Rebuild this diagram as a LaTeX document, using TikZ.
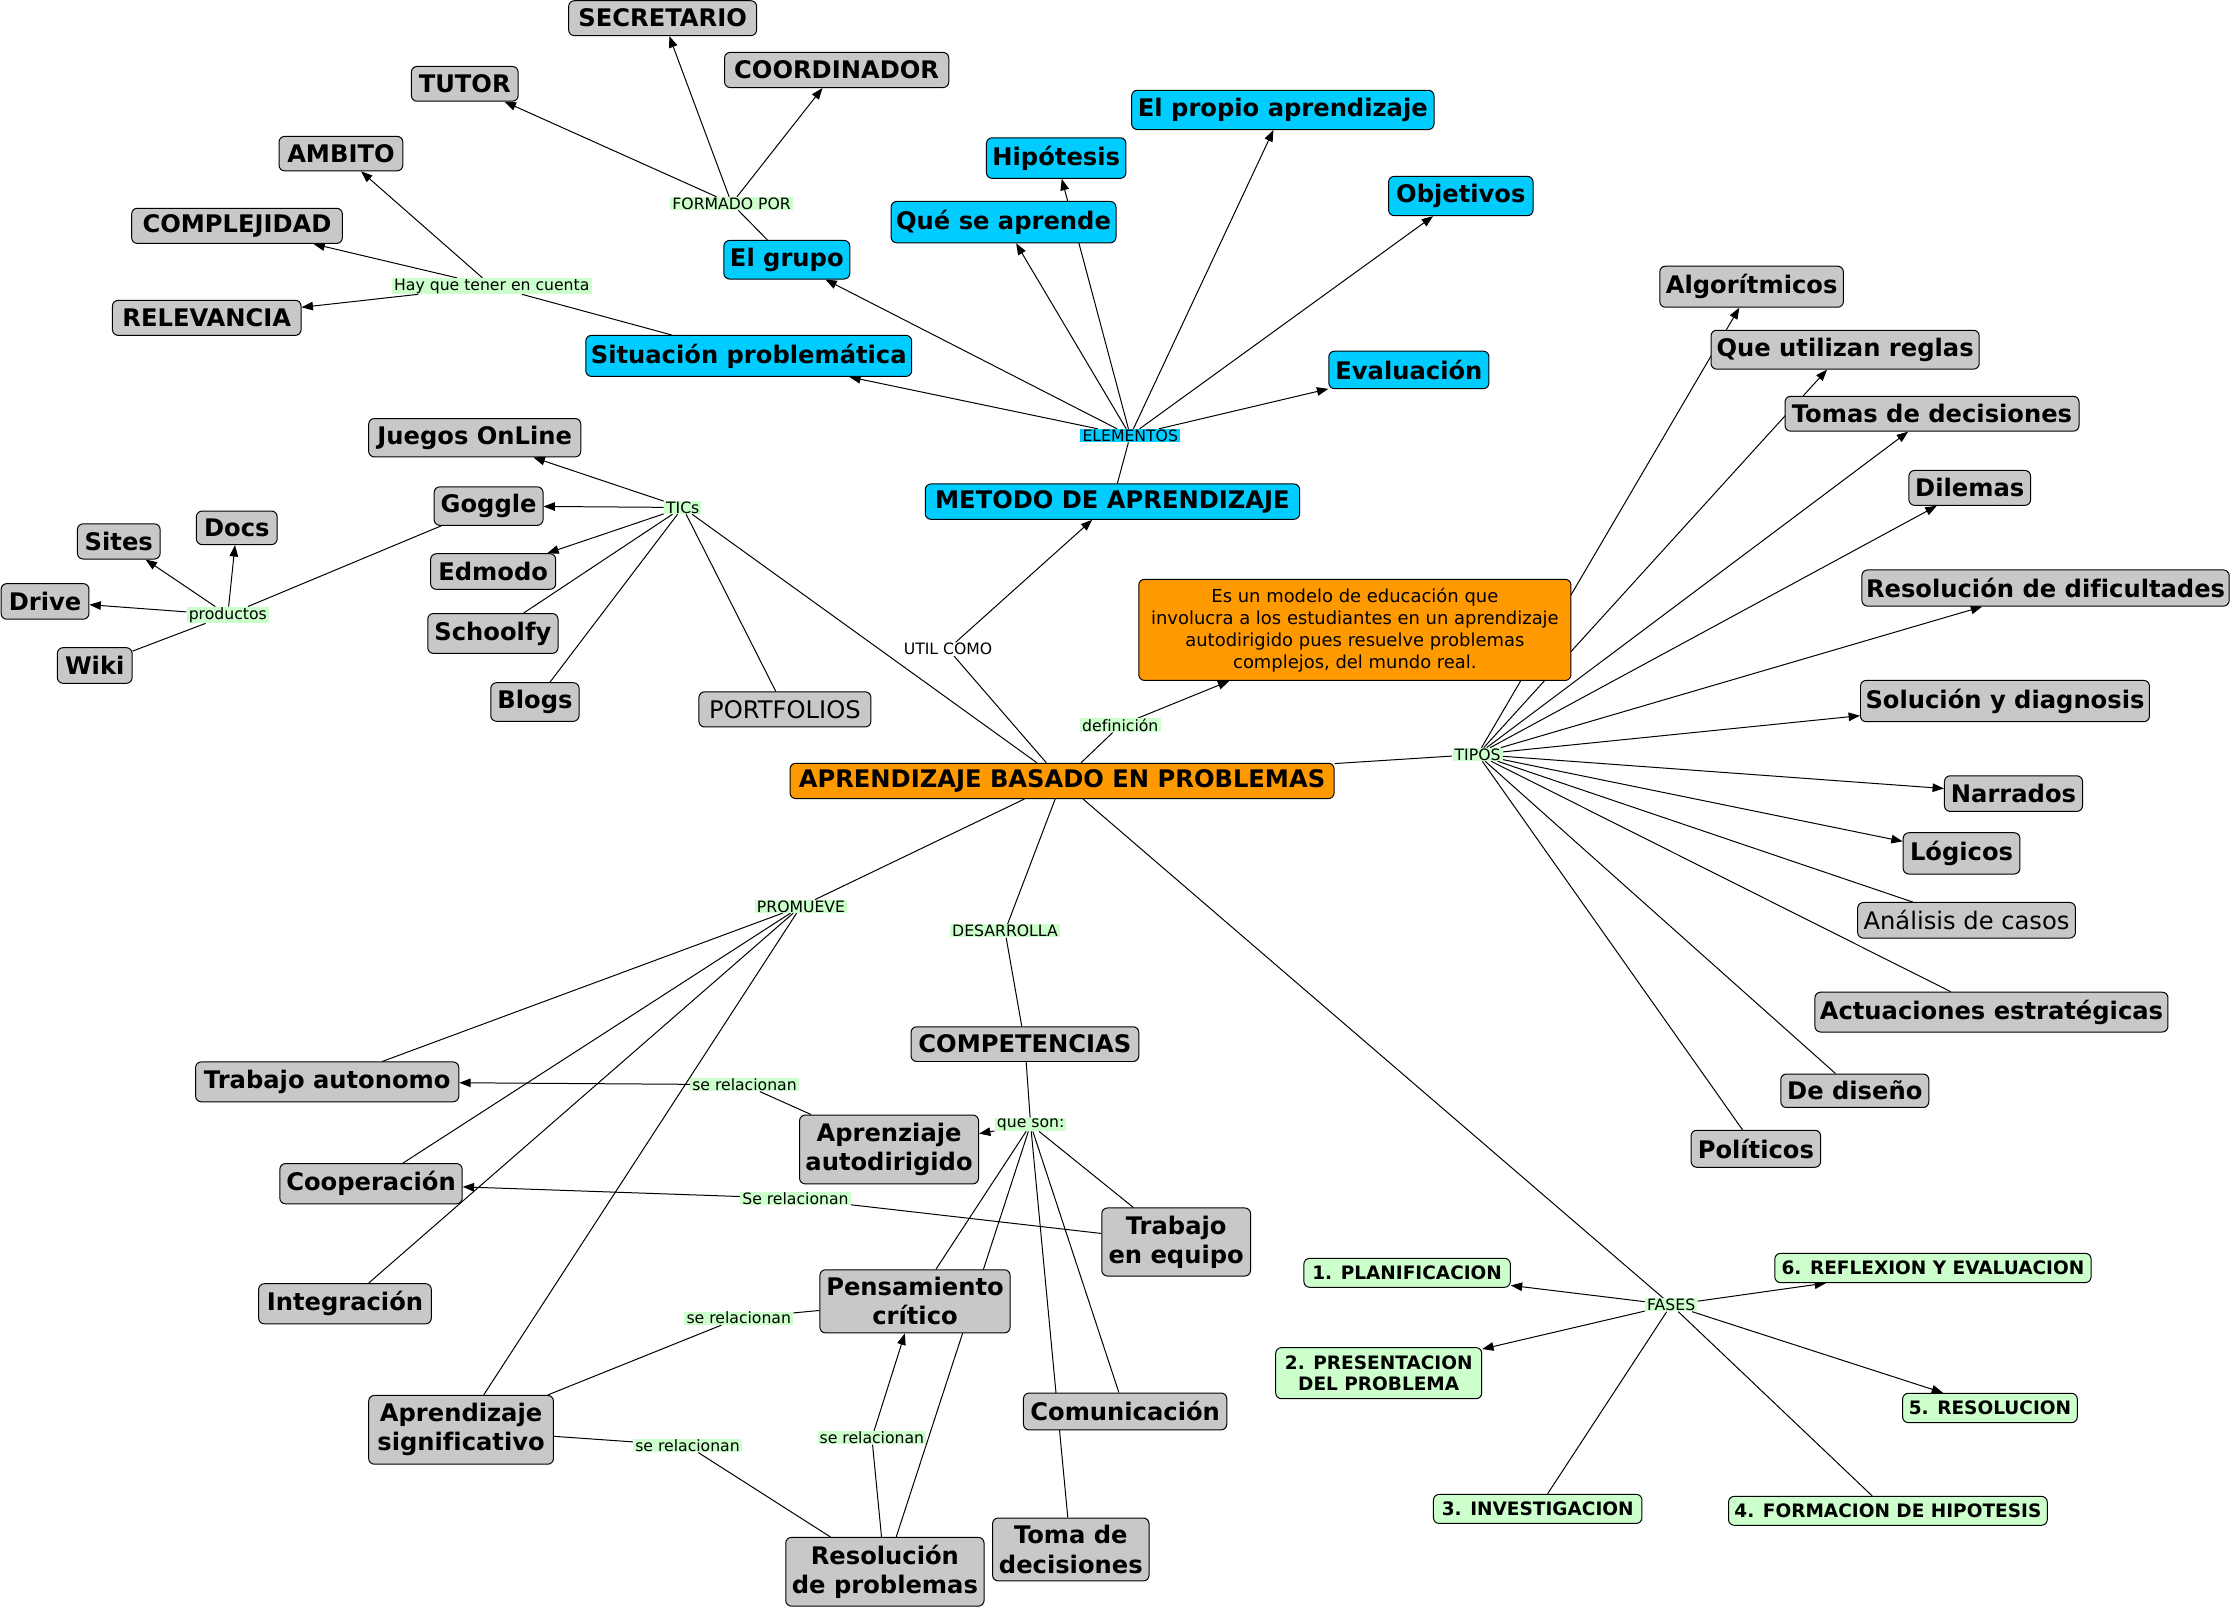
\documentclass[tikz,border=0pt]{standalone}
\usepackage{fontspec}
\setmainfont{DejaVu Sans}[Ligatures=NoCommon]
\usetikzlibrary{arrows.meta}
\pgfdeclarelayer{bg}
\pgfsetlayers{bg,main}
\definecolor{cgray}{HTML}{C8C8C8}
\definecolor{cblue}{HTML}{00CCFF}
\definecolor{corange}{HTML}{FF9900}
\definecolor{cgreen}{HTML}{CCFFCC}
\newcommand\cmnode[7]{\node[#1,minimum width={(#5)-(#3)},minimum height={(#6)-(#4)}] (#2) at ({((#3)+(#5))/2},{((#4)+(#6))/2}) {#7};}
\begin{document}
\begin{tikzpicture}[x=1pt,y=-1pt,
  box/.style={draw=black, line width=0.7pt, rounded corners=4pt, inner xsep=2pt, inner ysep=1pt, align=center, text=black, font=\fontsize{17}{20.4}\selectfont\bfseries},
  gbox/.style={box, fill=cgray},
  gboxr/.style={box, fill=cgray, font=\fontsize{17}{20.4}\selectfont},
  bbox/.style={box, fill=cblue},
  obox/.style={box, fill=corange},
  dbox/.style={box, fill=corange, font=\fontsize{12.6}{15.5}\selectfont},
  pbox/.style={box, fill=cgreen, font=\fontsize{13}{14.8}\selectfont\bfseries},
  lnk/.style={fill=cgreen, inner xsep=1.5pt, inner ysep=0.4pt, text=black, font=\fontsize{11}{12}\selectfont},
  lnkb/.style={lnk, fill=cblue},
  lnkw/.style={lnk, fill=white},
  con/.style={line width=0.7pt, draw=black},
  arr/.style={con, -{Triangle[length=8pt,width=6pt]}}
]
\useasboundingbox (0,0) rectangle (1568,1130.35);

% ---------- gray concepts ----------
\cmnode{gbox}{secretario}{399.5}{0.5}{531.5}{25}{SECRETARIO}
\cmnode{gbox}{coordinador}{509}{36.8}{666.5}{61.5}{COORDINADOR}
\cmnode{gbox}{tutor}{289}{46.7}{364}{71.1}{TUTOR}
\cmnode{gbox}{ambito}{196}{95.8}{283}{120}{AMBITO}
\cmnode{gbox}{complejidad}{92.5}{146.3}{240.5}{171}{COMPLEJIDAD}
\cmnode{gbox}{relevancia}{79}{211}{211.5}{235.6}{RELEVANCIA}
\cmnode{gbox}{juegos}{259}{294}{408}{321}{Juegos OnLine}
\cmnode{gbox}{goggle}{305}{342}{381.5}{369}{Goggle}
\cmnode{gbox}{docs}{138}{359}{194.7}{382.6}{Docs}
\cmnode{gbox}{sites}{54.4}{368}{112.5}{392.7}{Sites}
\cmnode{gbox}{drive}{0.8}{410}{62.5}{435}{Drive}
\cmnode{gbox}{wiki}{40.3}{455}{92.8}{480}{Wiki}
\cmnode{gbox}{edmodo}{302.5}{389}{390.4}{414}{Edmodo}
\cmnode{gbox}{schoolfy}{300.5}{431}{392}{459}{Schoolfy}
\cmnode{gbox}{blogs}{344.8}{479.6}{406.8}{506.7}{Blogs}
\cmnode{gboxr}{portfolios}{491}{486}{611.8}{510.7}{PORTFOLIOS}
\cmnode{gbox}{algor}{1166}{187}{1295}{215.8}{Algorítmicos}
\cmnode{gbox}{reglas}{1202}{232}{1390.4}{259.3}{Que utilizan reglas}
\cmnode{gbox}{tomas}{1254}{278.4}{1460.5}{302.9}{Tomas de decisiones}
\cmnode{gbox}{dilemas}{1341}{330.5}{1426.5}{355}{Dilemas}
\cmnode{gbox}{dificult}{1308}{400.4}{1566}{425.8}{Resolución de dificultades}
\cmnode{gbox}{solucion}{1307}{478}{1510}{507}{Solución y diagnosis}
\cmnode{gbox}{narrados}{1366}{545}{1463}{570}{Narrados}
\cmnode{gbox}{logicos}{1337}{585}{1419}{614}{Lógicos}
\cmnode{gboxr}{analisis}{1305}{634}{1458}{659}{Análisis de casos}
\cmnode{gbox}{actuac}{1275}{697}{1523}{725}{Actuaciones estratégicas}
\cmnode{gbox}{diseno}{1251}{754.5}{1355}{778}{De diseño}
\cmnode{gbox}{politicos}{1188}{794}{1279}{820}{Políticos}
\cmnode{gbox}{competencias}{640}{721.3}{800}{745.7}{COMPETENCIAS}
\cmnode{gbox}{tautonomo}{137.4}{746}{322.3}{774}{Trabajo autonomo}
\cmnode{gbox}{autodir}{561.7}{783.3}{687.4}{831.7}{Aprenziaje\\autodirigido}
\cmnode{gbox}{cooperacion}{196.6}{817.4}{324.7}{845.7}{Cooperación}
\cmnode{gbox}{tequipo}{774}{848.6}{878.5}{896.4}{Trabajo\\en equipo}
\cmnode{gbox}{integracion}{181.7}{901.8}{303}{930}{Integración}
\cmnode{gbox}{pensamiento}{576}{892}{709.6}{936.4}{Pensamiento\\crítico}
\cmnode{gbox}{significativo}{259}{980.3}{388.8}{1028.6}{Aprendizaje\\significativo}
\cmnode{gbox}{comunicacion}{719}{978.6}{861.8}{1004.5}{Comunicación}
\cmnode{gbox}{resolucion}{552}{1080}{691.3}{1128.3}{Resolución\\de problemas}
\cmnode{gbox}{toma}{697.3}{1066.4}{807.2}{1110.6}{Toma de\\decisiones}

% ---------- blue concepts ----------
\cmnode{bbox}{propio}{795}{63.4}{1007.4}{91}{El propio aprendizaje}
\cmnode{bbox}{hipotesis}{693}{96.8}{791}{125.3}{Hipótesis}
\cmnode{bbox}{quese}{626}{141.5}{784}{170.6}{Qué se aprende}
\cmnode{bbox}{objetivos}{975.5}{123.9}{1077}{151.5}{Objetivos}
\cmnode{bbox}{grupo}{508.5}{168.9}{597}{196}{El grupo}
\cmnode{bbox}{situacion}{411.5}{235.6}{640.5}{264.4}{Situación problemática}
\cmnode{bbox}{evaluacion}{933.5}{246.7}{1046}{273}{Evaluación}
\cmnode{bbox}{metodo}{650}{340}{913}{364.8}{METODO DE APRENDIZAJE}

% ---------- orange ----------
\cmnode{obox}{abp}{555}{536.2}{937.2}{561}{APRENDIZAJE BASADO EN PROBLEMAS}
\cmnode{dbox}{defin}{800}{407}{1103.6}{478}{Es un modelo de educación que\\involucra a los estudiantes en un aprendizaje\\autodirigido pues resuelve problemas\\complejos, del mundo real.}

% ---------- phases ----------
\cmnode{pbox}{f1}{916}{884}{1061}{904.3}{1. PLANIFICACION}
\cmnode{pbox}{f2}{896.2}{946.7}{1040.9}{982.6}{2. PRESENTACION\\DEL PROBLEMA}
\cmnode{pbox}{f3}{1007}{1049.8}{1153.5}{1070.2}{3. INVESTIGACION}
\cmnode{pbox}{f4}{1214.3}{1051.2}{1438.2}{1071.5}{4. FORMACION DE HIPOTESIS}
\cmnode{pbox}{f5}{1336.6}{978.8}{1459.3}{999.4}{5. RESOLUCION}
\cmnode{pbox}{f6}{1246.8}{880.5}{1469}{901}{6. REFLEXION Y EVALUACION}

% ---------- linking phrases ----------
\node[lnk] (formado) at (514,143) {FORMADO POR};
\node[lnk] (hay) at (345.5,201) {Hay que tener en cuenta};
\node[lnkb] (elementos) at (794,306) {ELEMENTOS};
\node[lnk] (tics) at (479.6,356.5) {TICs};
\node[lnk] (productos) at (160,432) {productos};
\node[lnkw] (util) at (666,456) {UTIL COMO};
\node[lnk] (definicion) at (787,509.5) {definición};
\node[lnk] (tipos) at (1038,530) {TIPOS};
\node[lnk] (promueve) at (562.7,636.7) {PROMUEVE};
\node[lnk] (desarrolla) at (706,654) {DESARROLLA};
\node[lnk] (rel1) at (523,762) {se relacionan};
\node[lnk] (queson) at (724,790) {que son:};
\node[lnk] (rel2) at (558.8,841.9) {Se relacionan};
\node[lnk] (rel3) at (519,926) {se relacionan};
\node[lnk] (rel4) at (483,1015.6) {se relacionan};
\node[lnk] (rel5) at (612.5,1010) {se relacionan};
\node[lnk] (fases) at (1174,916.7) {FASES};

% ---------- connectors ----------
\begin{pgfonlayer}{bg}
\fill[white] (0,0) rectangle (1568,1130.35);
% formado por
\draw[con] (grupo) -- (formado);
\draw[arr] (formado) -- (secretario);
\draw[arr] (formado) -- (coordinador);
\draw[arr] (formado) -- (tutor);
% hay que tener en cuenta
\draw[con] (situacion) -- (hay);
\draw[arr] (hay) -- (ambito);
\draw[arr] (hay) -- (complejidad);
\draw[arr] (hay) -- (relevancia);
% elementos
\draw[con] (metodo) -- (elementos);
\draw[arr] (elementos) -- (grupo);
\draw[arr] (elementos) -- (situacion);
\draw[arr] (elementos) -- (quese);
\draw[arr] (elementos) -- (hipotesis);
\draw[arr] (elementos) -- (propio);
\draw[arr] (elementos) -- (objetivos);
\draw[arr] (elementos) -- (evaluacion);
% util como
\draw[con] (abp) -- (util);
\draw[arr] (util) -- (metodo);
% definicion
\draw[con] (abp) -- (definicion);
\draw[arr] (definicion) -- (defin);
% TICs
\draw[con] (abp) -- (tics);
\draw[arr] (tics) -- (juegos);
\draw[arr] (tics) -- (goggle);
\draw[arr] (tics) -- (edmodo);
\draw[con] (tics) -- (schoolfy);
\draw[con] (tics) -- (blogs);
\draw[con] (tics) -- (portfolios);
% productos
\draw[con] (goggle) -- (productos);
\draw[arr] (productos) -- (drive);
\draw[arr] (productos) -- (sites);
\draw[arr] (productos) -- (docs);
\draw[con] (productos) -- (wiki);
% tipos
\draw[con] (abp) -- (tipos);
\draw[arr] (tipos) -- (algor);
\draw[arr] (tipos) -- (reglas);
\draw[arr] (tipos) -- (tomas);
\draw[arr] (tipos) -- (dilemas);
\draw[arr] (tipos) -- (dificult);
\draw[arr] (tipos) -- (solucion);
\draw[arr] (tipos) -- (narrados);
\draw[arr] (tipos) -- (logicos);
\draw[con] (tipos) -- (analisis);
\draw[con] (tipos) -- (actuac);
\draw[con] (tipos) -- (diseno);
\draw[con] (tipos) -- (politicos);
% promueve
\draw[con] (abp) -- (promueve);
\draw[con] (promueve) -- (tautonomo);
\draw[con] (promueve) -- (cooperacion);
\draw[con] (promueve) -- (integracion);
\draw[con] (promueve) -- (significativo);
% desarrolla
\draw[con] (abp) -- (desarrolla);
\draw[con] (desarrolla) -- (competencias);
% fases
\draw[con] (abp) -- (fases);
\draw[arr] (fases) -- (f1);
\draw[arr] (fases) -- (f2);
\draw[con] (fases) -- (f3);
\draw[con] (fases) -- (f4);
\draw[arr] (fases) -- (f5);
\draw[arr] (fases) -- (f6);
% que son
\draw[con] (competencias) -- (queson);
\draw[arr] (queson) -- (autodir);
\draw[con] (queson) -- (tequipo);
\draw[con] (queson) -- (pensamiento);
\draw[con] (queson) -- (resolucion);
\draw[con] (queson) -- (comunicacion);
\draw[con] (queson) -- (toma);
% se relacionan
\draw[con] (autodir) -- (rel1);
\draw[arr] (rel1) -- (tautonomo);
\draw[con] (tequipo) -- (rel2);
\draw[arr] (rel2) -- (cooperacion);
\draw[con] (significativo) -- (rel3);
\draw[con] (rel3) -- (pensamiento);
\draw[con] (significativo) -- (rel4);
\draw[con] (rel4) -- (resolucion);
\draw[con] (resolucion) -- (rel5);
\draw[arr] (rel5) -- (pensamiento);
\end{pgfonlayer}
\end{tikzpicture}
\end{document}
